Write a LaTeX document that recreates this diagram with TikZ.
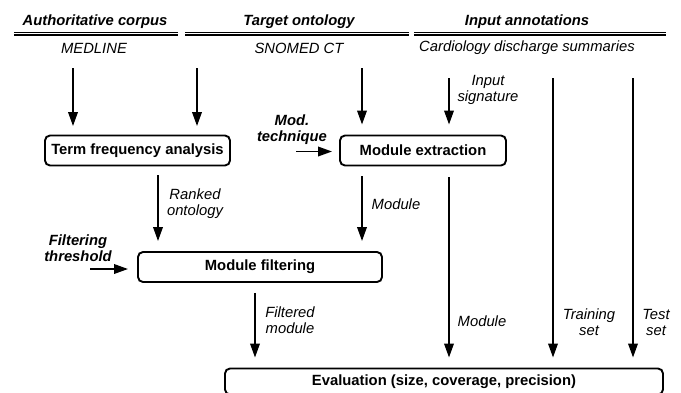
\documentclass[tikz,border=0pt]{standalone}
\usepackage{fontspec}
\setmainfont{Liberation Sans}
\usetikzlibrary{arrows.meta}
\begin{document}
\begin{tikzpicture}[x=1pt,y=-1pt,
  every node/.style={inner sep=0pt, font=\fontsize{14.8}{16}\selectfont},
  proc/.style={draw, line width=1.9pt, rounded corners=5pt, font=\fontsize{14.8}{16}\selectfont\bfseries},
  hd/.style={font=\fontsize{14.8}{16}\selectfont\bfseries\itshape},
  sub/.style={font=\fontsize{14.8}{16}\selectfont\itshape},
  lbl/.style={align=center, font=\fontsize{14.8}{16}\selectfont\itshape},
  blbl/.style={align=center, font=\fontsize{14.8}{16}\selectfont\bfseries\itshape},
  arr/.style={line width=1.9pt, -{Triangle[length=14pt,width=9.5pt]}},
  rulel/.style={line width=1.7pt}]
\useasboundingbox (0,0) rectangle (681,392);

% headers
\node[hd] (h1) at (95,22) {Authoritative corpus};
\node[hd] (h2) at (299,22) {Target ontology};
\node[hd] (h3) at (527,22) {Input annotations};
\foreach \a/\b in {14/178,185/409,414/666}{
  \draw[rulel] (\a,32.6) -- (\b,32.6);
  \draw[rulel] (\a,35.3) -- (\b,35.3);
}
\node[sub] (s1) at (94,48) {MEDLINE};
\node[sub] (s2) at (299,48) {SNOMED CT};
\node[sub] (s3) at (527,48) {Cardiology discharge summaries};

% boxes
\node[proc, minimum width=185pt, minimum height=30pt] (tf) at (137.5,150.5) {Term frequency analysis};
\node[proc, minimum width=166pt, minimum height=30pt] (me) at (423,150.5) {Module extraction};
\node[proc, minimum width=244pt, minimum height=30pt] (mf) at (260,267) {Module filtering};
\node[proc, minimum width=438pt, minimum height=26pt] (ev) at (444,381.5) {Evaluation (size, coverage, precision)};

% labels
\node[lbl] (lis) at (488,90) {Input\\signature};
\node[blbl] (lmt) at (292,130) {Mod.\\technique};
\node[lbl] (lro) at (195,204) {Ranked\\ontology};
\node[lbl] (lm1) at (396,204) {Module};
\node[blbl] (lft) at (78,248) {Filtering\\threshold};
\node[lbl] (lfm) at (290,320) {Filtered\\module};
\node[lbl] (lm2) at (482,321) {Module};
\node[lbl] (lts) at (589,322) {Training\\set};
\node[lbl] (lte) at (656,322) {Test\\set};

% arrow start coordinates
\coordinate (c1) at (73,68);
\coordinate (c2) at (197,68);
\coordinate (c3) at (362,68);
\coordinate (c4) at (449,78);
\coordinate (c5) at (553,78);
\coordinate (c6) at (633,78);
\coordinate (cmt) at (296,151.5);
\coordinate (cft) at (90,269);

\draw[arr, shorten >=8.5pt] (c1) -- (c1 |- tf.north);
\draw[arr, shorten >=8.5pt] (c2) -- (c2 |- tf.north);
\draw[arr, shorten >=10pt] (c3) -- (c3 |- me.north);
\draw[arr, shorten >=10pt] (c4) -- (c4 |- me.north);
\draw[arr, shorten >=7pt] (cmt) -- (cmt -| me.west);
\draw[arr, shorten <=9pt, shorten >=10pt] (tf.south -| 158,0) -- (158,0 |- mf.north);
\draw[arr, shorten <=10pt, shorten >=10pt] (me.south -| c3) -- (c3 |- mf.north);
\draw[arr, shorten >=9pt] (cft) -- (cft -| mf.west);
\draw[arr, shorten <=10pt, shorten >=10pt] (mf.south -| 255,0) -- (255,0 |- ev.north);
\draw[arr, shorten <=11pt, shorten >=10pt] (me.south -| c4) -- (c4 |- ev.north);
\draw[arr, shorten >=10pt] (c5) -- (c5 |- ev.north);
\draw[arr, shorten >=10pt] (c6) -- (c6 |- ev.north);
\end{tikzpicture}
\end{document}
